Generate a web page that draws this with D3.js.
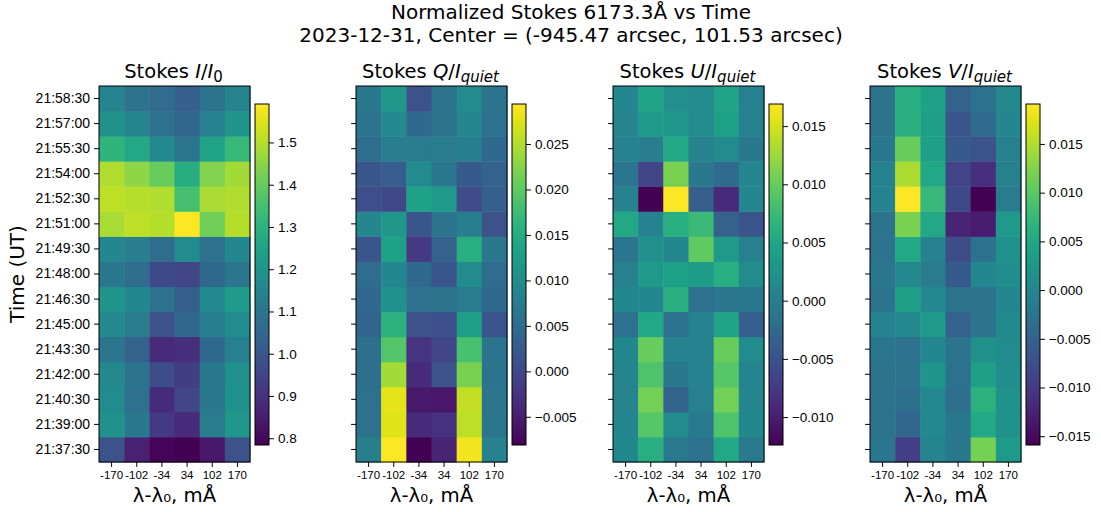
<!DOCTYPE html>
<html>
<head>
<meta charset="utf-8">
<script src="https://cdn.jsdelivr.net/npm/d3@7"></script>
<style>
  body { margin: 0; background: #fff; }
  svg { display: block; font-family: "DejaVu Sans", sans-serif; }
</style>
</head>
<body>
<div id="chart"></div>
<script>
// Define the data (rows in time order, bottom row of the plot first)
let times = ["21:37:30", "21:39:00", "21:40:30", "21:42:00", "21:43:30", "21:45:00", "21:46:30", "21:48:00",
             "21:49:30", "21:51:00", "21:52:30", "21:54:00", "21:55:30", "21:57:00", "21:58:30"];
let wavelengths = ["-170", "-102", "-34", "34", "102", "170"];

let stokes_i = [
  [0.986, 0.857, 0.792, 0.784, 0.832, 0.986],
  [1.188, 1.107, 0.921, 0.881, 1.115, 1.212],
  [1.171, 1.083, 0.881, 0.953, 1.107, 1.196],
  [1.163, 1.091, 0.970, 0.929, 1.107, 1.188],
  [1.099, 1.034, 0.881, 0.889, 1.058, 1.131],
  [1.163, 1.115, 0.986, 1.050, 1.123, 1.171],
  [1.204, 1.155, 1.083, 1.026, 1.163, 1.228],
  [1.107, 1.066, 0.962, 0.953, 1.058, 1.099],
  [1.155, 1.123, 1.066, 1.171, 1.083, 1.155],
  [1.486, 1.510, 1.502, 1.591, 1.413, 1.502],
  [1.510, 1.502, 1.494, 1.349, 1.486, 1.494],
  [1.494, 1.454, 1.405, 1.284, 1.438, 1.478],
  [1.309, 1.268, 1.163, 1.099, 1.252, 1.325],
  [1.188, 1.147, 1.083, 1.050, 1.131, 1.204],
  [1.147, 1.091, 1.066, 1.026, 1.091, 1.147]
];

let stokes_q = [
  [0.0080, 0.0294, -0.0081, -0.0043, 0.0287, 0.0084],
  [0.0058, 0.0275, -0.0036, -0.0028, 0.0257, 0.0065],
  [0.0058, 0.0279, -0.0055, -0.0058, 0.0260, 0.0065],
  [0.0054, 0.0242, -0.0036, 0.0013, 0.0219, 0.0062],
  [0.0054, 0.0193, -0.0025, -0.0002, 0.0185, 0.0062],
  [0.0039, 0.0159, 0.0013, 0.0009, 0.0129, 0.0016],
  [0.0046, 0.0107, 0.0058, 0.0062, 0.0073, 0.0046],
  [0.0050, 0.0091, 0.0046, 0.0020, 0.0099, 0.0050],
  [0.0016, 0.0133, -0.0017, 0.0035, 0.0155, 0.0069],
  [0.0091, 0.0118, 0.0016, 0.0062, 0.0080, 0.0013],
  [0.0009, 0.0001, 0.0133, 0.0121, 0.0005, 0.0031],
  [0.0016, 0.0028, 0.0099, 0.0069, 0.0024, 0.0035],
  [0.0050, 0.0077, 0.0073, 0.0073, 0.0080, 0.0046],
  [0.0062, 0.0095, 0.0046, 0.0062, 0.0088, 0.0058],
  [0.0069, 0.0118, 0.0013, 0.0062, 0.0099, 0.0062]
];

let stokes_u = [
  [0.0013, 0.0060, -0.0004, -0.0013, 0.0052, -0.0004],
  [0.0011, 0.0092, 0.0016, -0.0004, 0.0087, 0.0013],
  [0.0008, 0.0107, -0.0033, 0.0002, 0.0107, 0.0011],
  [0.0008, 0.0087, -0.0007, 0.0005, 0.0092, 0.0008],
  [0.0013, 0.0101, 0.0005, 0.0005, 0.0101, 0.0016],
  [-0.0013, 0.0052, -0.0013, 0.0005, 0.0046, -0.0036],
  [0.0013, 0.0011, 0.0060, -0.0013, -0.0010, -0.0007],
  [0.0002, 0.0034, 0.0043, 0.0037, 0.0060, 0.0016],
  [-0.0010, 0.0022, 0.0011, 0.0098, 0.0034, 0.0002],
  [0.0052, 0.0005, 0.0060, 0.0075, -0.0033, -0.0048],
  [0.0005, -0.0124, 0.0169, -0.0036, -0.0089, 0.0011],
  [-0.0010, -0.0065, 0.0110, -0.0007, -0.0024, 0.0011],
  [0.0005, -0.0001, 0.0052, 0.0005, 0.0016, -0.0007],
  [0.0008, 0.0034, 0.0031, 0.0016, 0.0043, 0.0002],
  [0.0011, 0.0046, 0.0022, 0.0016, 0.0046, 0.0002]
];

let stokes_v = [
  [-0.0022, -0.0096, -0.0001, -0.0019, 0.0118, 0.0030],
  [-0.0026, -0.0043, 0.0006, -0.0019, 0.0051, 0.0016],
  [-0.0026, -0.0033, 0.0006, -0.0033, 0.0065, 0.0016],
  [-0.0026, -0.0026, 0.0023, -0.0029, 0.0037, 0.0013],
  [-0.0022, -0.0029, 0.0002, -0.0026, 0.0016, 0.0009],
  [-0.0005, 0.0006, 0.0030, -0.0050, -0.0026, 0.0006],
  [-0.0026, 0.0037, 0.0006, -0.0026, -0.0026, 0.0002],
  [-0.0022, 0.0006, -0.0015, -0.0061, 0.0002, 0.0013],
  [-0.0026, 0.0051, -0.0005, -0.0078, -0.0029, 0.0016],
  [-0.0026, 0.0121, 0.0051, -0.0124, -0.0131, 0.0030],
  [-0.0005, 0.0191, 0.0076, -0.0082, -0.0159, -0.0015],
  [-0.0005, 0.0146, 0.0051, -0.0089, -0.0110, -0.0008],
  [-0.0019, 0.0111, 0.0037, -0.0061, -0.0071, -0.0008],
  [-0.0026, 0.0062, 0.0037, -0.0068, -0.0040, 0.0002],
  [-0.0026, 0.0062, 0.0041, -0.0050, -0.0029, 0.0006]
];

// Colorbar tick values
let ticks_i = [0.8, 0.9, 1.0, 1.1, 1.2, 1.3, 1.4, 1.5];
let ticks_q = [-0.005, 0.0, 0.005, 0.010, 0.015, 0.020, 0.025];
let ticks_u = [-0.010, -0.005, 0.0, 0.005, 0.010, 0.015];
let ticks_v = [-0.015, -0.010, -0.005, 0.0, 0.005, 0.010, 0.015];

function BuildGraph(){
  let chart_width = 1101;
  let chart_height = 512;
  let panel_top = 86;
  let panel_w = 151;
  let panel_h = 376;
  let panel_step = 257;
  let first_left = 99;

  let svg = d3.select('#chart')
    .append('svg')
    .attr('width', chart_width)
    .attr('height', chart_height);

  let defs = svg.append('defs');

  // Figure title
  svg.append('text')
    .attr('x', 571).attr('y', 19)
    .attr('text-anchor', 'middle')
    .style('font-size', '20px')
    .text('Normalized Stokes 6173.3Å vs Time');
  svg.append('text')
    .attr('x', 571).attr('y', 42)
    .attr('text-anchor', 'middle')
    .style('font-size', '20px')
    .text('2023-12-31, Center = (-945.47 arcsec, 101.53 arcsec)');

  let panels = [
    { values: stokes_i, ticks: ticks_i, fmt: d3.format('.1f'), letter: 'I', sub: '0' },
    { values: stokes_q, ticks: ticks_q, fmt: d3.format('.3f'), letter: 'Q', sub: 'quiet' },
    { values: stokes_u, ticks: ticks_u, fmt: d3.format('.3f'), letter: 'U', sub: 'quiet' },
    { values: stokes_v, ticks: ticks_v, fmt: d3.format('.3f'), letter: 'V', sub: 'quiet' }
  ];

  panels.forEach(function(p, k){
    let left = first_left + k * panel_step;
    let g = svg.append('g')
      .attr('transform', 'translate(' + left + ',' + panel_top + ')');

    let x_scale = d3.scaleBand().domain(wavelengths).range([0, panel_w]);
    let y_scale = d3.scaleBand().domain(times).range([panel_h, 0]);

    let flat = p.values.flat();
    let extent = d3.extent(flat);
    let color = d3.scaleSequential(d3.interpolateViridis).domain(extent);

    // Cells
    let cells = [];
    p.values.forEach(function(row, r){
      row.forEach(function(v, c){
        cells.push({ t: times[r], w: wavelengths[c], v: v });
      });
    });
    g.selectAll('rect.cell')
      .data(cells)
      .enter()
      .append('rect')
      .attr('class', 'cell')
      .attr('x', (d) => x_scale(d.w))
      .attr('y', (d) => y_scale(d.t))
      .attr('width', x_scale.bandwidth() + 0.5)
      .attr('height', y_scale.bandwidth() + 0.5)
      .attr('fill', (d) => color(d.v));

    // Frame
    g.append('rect')
      .attr('width', panel_w).attr('height', panel_h)
      .attr('fill', 'none').attr('stroke', '#000').attr('stroke-width', 1);

    // Axes
    let y_axis = d3.axisLeft(y_scale).tickSize(4.9).tickPadding(4);
    if (k > 0) y_axis.tickFormat('');
    let ya = g.append('g').call(y_axis);
    ya.select('.domain').remove();
    ya.selectAll('text').style('font-size', '14px').attr('fill', '#000');
    ya.selectAll('line').attr('stroke', '#000');

    let x_axis = d3.axisBottom(x_scale).tickSize(4.9).tickPadding(4);
    let xa = g.append('g')
      .attr('transform', 'translate(0,' + panel_h + ')')
      .call(x_axis);
    xa.select('.domain').remove();
    xa.selectAll('text').style('font-size', '11.5px').attr('fill', '#000');
    xa.selectAll('line').attr('stroke', '#000');

    // X label
    g.append('text')
      .attr('x', panel_w / 2).attr('y', 416)
      .attr('text-anchor', 'middle')
      .style('font-size', '19.7px')
      .text('λ-λ₀, mÅ');

    // Panel title
    let title = g.append('text')
      .attr('x', panel_w / 2 - 1).attr('y', -8)
      .attr('text-anchor', 'middle')
      .style('font-size', '19.5px');
    title.append('tspan').text('Stokes ');
    title.append('tspan').style('font-style', 'italic').text(p.letter);
    title.append('tspan').text('/');
    title.append('tspan').style('font-style', 'italic').text('I');
    title.append('tspan')
      .attr('dy', 3.5)
      .style('font-size', '15px')
      .style('font-style', p.sub == '0' ? 'normal' : 'italic')
      .text(p.sub);

    // Colorbar
    let cb_x = panel_w + 5;
    let cb_top = 104 - panel_top;
    let cb_h = 341;
    let cb_w = 14;
    let cb_scale = d3.scaleLinear().domain(extent).range([cb_top + cb_h, cb_top]);

    let grad = defs.append('linearGradient')
      .attr('id', 'grad' + k)
      .attr('x1', 0).attr('y1', 1).attr('x2', 0).attr('y2', 0);
    d3.range(0, 1.0001, 0.05).forEach(function(t){
      grad.append('stop')
        .attr('offset', t)
        .attr('stop-color', d3.interpolateViridis(t));
    });
    g.append('rect')
      .attr('x', cb_x).attr('y', cb_top)
      .attr('width', cb_w).attr('height', cb_h)
      .attr('fill', 'url(#grad' + k + ')')
      .attr('stroke', '#000').attr('stroke-width', 1);

    let cb_axis = d3.axisRight(cb_scale)
      .tickValues(p.ticks)
      .tickFormat(p.fmt)
      .tickSize(4.9).tickPadding(4);
    let ca = g.append('g')
      .attr('transform', 'translate(' + (cb_x + cb_w) + ',0)')
      .call(cb_axis);
    ca.select('.domain').remove();
    ca.selectAll('text').style('font-size', '13.5px').attr('fill', '#000');
    ca.selectAll('line').attr('stroke', '#000');
  });

  // Y label
  svg.append('text')
    .attr('text-anchor', 'middle')
    .style('font-size', '20px')
    .attr('transform', 'translate(24,' + (panel_top + panel_h / 2) + ')rotate(-90)')
    .text('Time (UT)');
}

document.addEventListener('DOMContentLoaded', function(){
  BuildGraph();
});
</script>
</body>
</html>
